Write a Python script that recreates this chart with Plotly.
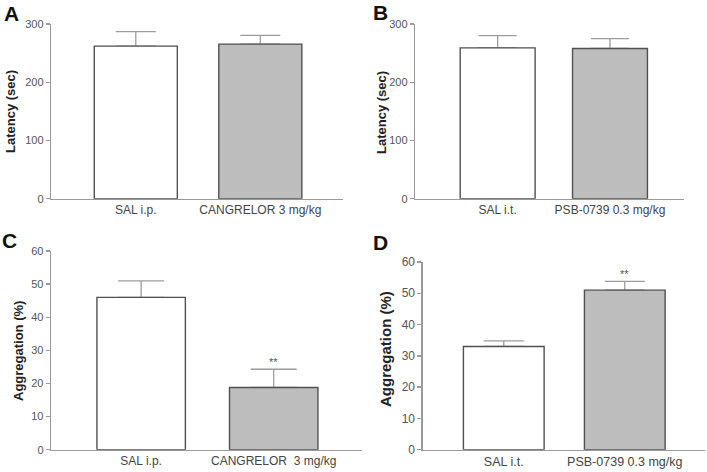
import plotly.graph_objects as go

W, H = 707, 472

# ---- data ----
cats_A = ["SAL i.p.", "CANGRELOR 3 mg/kg"]
vals_A = [262, 265.5]
errs_A = [25, 15]

cats_B = ["SAL i.t.", "PSB-0739 0.3 mg/kg"]
vals_B = [259, 258]
errs_B = [21, 17]

cats_C = ["SAL i.p.", "CANGRELOR  3 mg/kg"]
vals_C = [46, 18.8]
errs_C = [5, 5.5]

cats_D = ["SAL i.t.", "PSB-0739 0.3 mg/kg"]
vals_D = [33, 51]
errs_D = [1.8, 2.8]

sig_C = ["", "**"]
sig_D = ["", "**"]

fills = ["#ffffff", "#bdbdbd"]
outline = "#505050"
errcol = "#9c9c9c"
axcol = "#9a9a9a"
font = "Liberation Sans, Arial, sans-serif"

panels = [
    ("A", cats_A, vals_A, errs_A, None, (51, 343), (24, 198.7), [0, 300], 100, [-0.681, 1.664],
     "Latency (sec)", (10, 112), (11, 13), 20, 13),
    ("B", cats_B, vals_B, errs_B, None, (415, 684), (24, 198.7), [0, 300], 100, [-0.736, 1.659],
     "Latency (sec)", (381, 112), (380, 12), 19, 13),
    ("C", cats_C, vals_C, errs_C, sig_C, (51, 362), (251, 449.7), [0, 60], 10, [-0.68, 1.666],
     "Aggregation (%)", (18, 351), (9, 240), 23, 13),
    ("D", cats_D, vals_D, errs_D, sig_D, (422.7, 705), (262, 449.7), [0, 60], 10, [-0.67, 1.663],
     "Aggregation (%)", (385, 349), (380, 243), 20, 15),
]

fig = go.Figure()
layout = dict(width=W, height=H, margin=dict(l=0, r=0, t=0, b=0, pad=0, autoexpand=False),
              paper_bgcolor="white", plot_bgcolor="white", showlegend=False,
              barmode="overlay", annotations=[])

for i, (letter, cats, vals, errs, sig, xpx, ypx, yr, dt, xr, ytitle, tpos, lpos, cap, tsize) in enumerate(panels):
    n = "" if i == 0 else str(i + 1)
    xa, ya = "x" + n, "y" + n
    fig.add_trace(go.Bar(
        x=cats, y=vals, xaxis=xa, yaxis=ya, width=0.667,
        marker=dict(color="rgba(0,0,0,0)", line=dict(width=0)),
        error_y=dict(type="data", symmetric=False, array=errs, arrayminus=[0] * len(errs),
                     color=errcol, thickness=1.3, width=cap),
        hoverinfo="skip"))
    fig.add_trace(go.Bar(
        x=cats, y=vals, xaxis=xa, yaxis=ya, width=0.667,
        marker=dict(color=fills, line=dict(color=outline, width=1.4))))
    layout["xaxis" + n] = dict(
        domain=[xpx[0] / W, xpx[1] / W], anchor=ya, range=xr, type="category",
        showline=True, linecolor=axcol, linewidth=1.3, ticks="", showgrid=False,
        zeroline=False, automargin=False,
        tickfont=dict(family=font, size=12 if letter != "D" else 12.5, color="#444"),
        fixedrange=True)
    layout["yaxis" + n] = dict(
        domain=[1 - ypx[1] / H, 1 - ypx[0] / H], anchor=xa, range=yr, dtick=dt,
        showline=True, linecolor=axcol, linewidth=1.3, ticks="outside", ticklen=4,
        tickcolor=axcol, tickwidth=1.3, showgrid=False, zeroline=False, automargin=False,
        tickfont=dict(family=font, size=11 if letter != "D" else 12, color="#555"),
        fixedrange=True)
    layout["annotations"].append(dict(
        text="<b>" + ytitle + "</b>", xref="paper", yref="paper",
        x=tpos[0] / W, y=1 - tpos[1] / H, xanchor="center", yanchor="middle",
        textangle=-90, showarrow=False, font=dict(family=font, size=tsize, color="#222")))
    layout["annotations"].append(dict(
        text="<b>" + letter + "</b>", xref="paper", yref="paper",
        x=lpos[0] / W, y=1 - lpos[1] / H, xanchor="center", yanchor="middle",
        showarrow=False, font=dict(family=font, size=21, color="#111")))
    if sig:
        for c, v, e, s in zip(cats, vals, errs, sig):
            if s:
                layout["annotations"].append(dict(
                    text=s, xref=xa, yref=ya, x=c, y=v + e, xanchor="center",
                    yanchor="bottom", yshift=-1, showarrow=False,
                    font=dict(family=font, size=11, color="#555")))

fig.update_layout(**layout)
fig.write_html("out.html", config={"displayModeBar": False, "staticPlot": True},
               post_script="document.body.style.margin='0px';document.body.style.overflow='hidden';")
